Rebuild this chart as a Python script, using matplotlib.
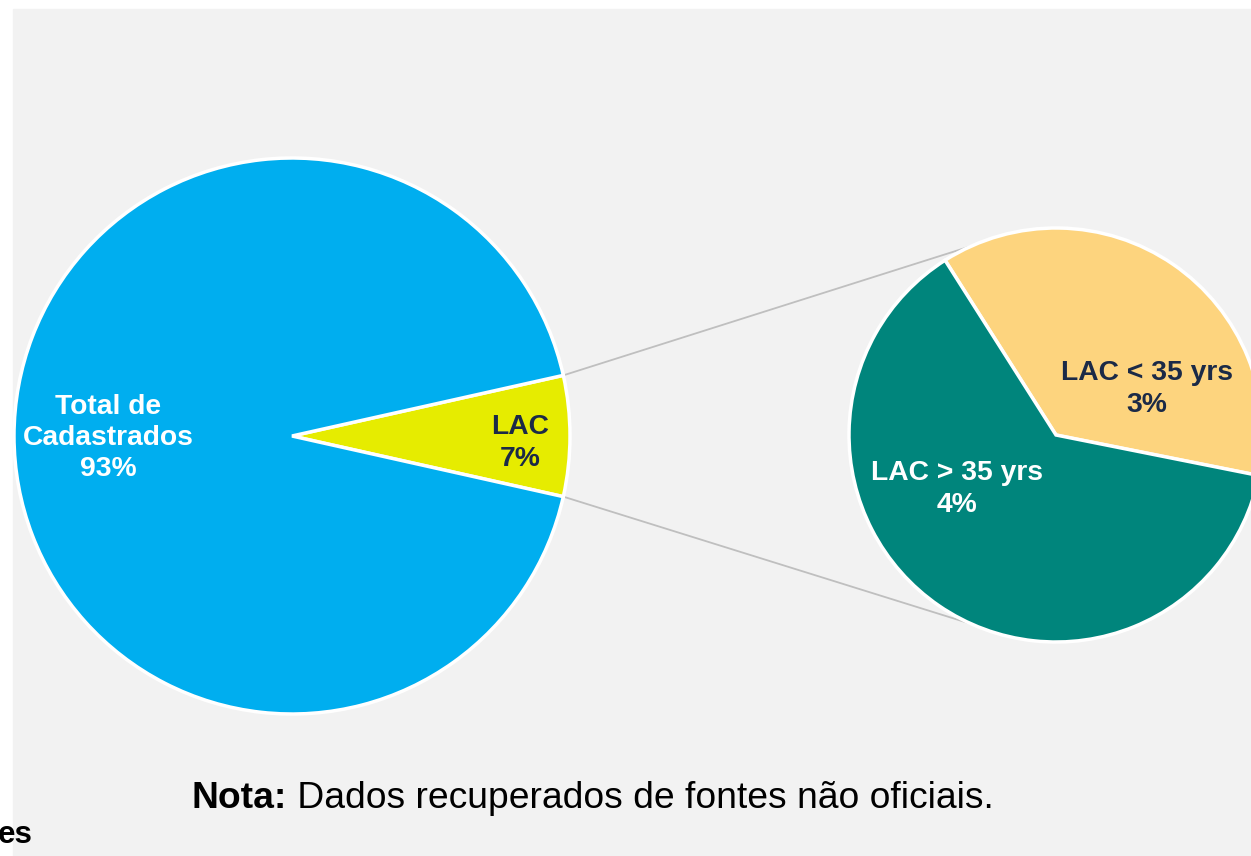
import matplotlib.pyplot as plt
from matplotlib.patches import Rectangle
import numpy as np

plt.rcParams['font.family'] = ['Liberation Sans', 'DejaVu Sans']

# dados
total_labels = ['LAC', 'Total de\nCadastrados']
total_values = [7, 93]
total_colors = ['#E6EC00', '#00AEEF']

lac_labels = ['LAC < 35 yrs', 'LAC > 35 yrs']
lac_values = [2.6, 4.4]
lac_colors = ['#FDD47E', '#00857C']

nota = 'Dados recuperados de fontes não oficiais.'

W, H = 1251, 856
fig = plt.figure(figsize=(W / 100, H / 100), dpi=100)
ax = fig.add_axes([0, 0, 1, 1])

# fundo cinza
ax.add_patch(Rectangle((13, 0), W - 13, H - 9, color='#F2F2F2', zorder=0))

c1, r1 = (292, 420), 278
c2, r2 = (1056, 421), 207

# pizza principal
start1 = -total_values[0] / sum(total_values) * 360 / 2
ax.pie(total_values, colors=total_colors, center=c1, radius=r1,
       startangle=start1, counterclock=True, frame=True,
       wedgeprops=dict(edgecolor='white', linewidth=2.5))

# pizza secundaria
ax.pie(lac_values, colors=lac_colors, center=c2, radius=r2,
       startangle=-11.3, counterclock=True, frame=True,
       wedgeprops=dict(edgecolor='white', linewidth=2.5))

ax.set_xlim(0, W)
ax.set_ylim(0, H)
ax.set_aspect('equal')
ax.axis('off')

# linhas de ligacao
for sgn in (1, -1):
    a1 = np.deg2rad(sgn * -start1)
    a2 = np.deg2rad(sgn * 114)
    p1 = (c1[0] + r1 * np.cos(a1), c1[1] + r1 * np.sin(a1))
    p2 = (c2[0] + r2 * np.cos(a2), c2[1] + r2 * np.sin(a2))
    ax.plot([p1[0], p2[0]], [p1[1], p2[1]], color='#BFBFBF', lw=1.3, zorder=0.5)

# rotulos
pct_total = [f'{v:.0f}%' for v in total_values]
pct_lac = [f'{round(v):.0f}%' for v in lac_values]
lab_kw = dict(ha='center', va='center', fontsize=20.3, fontweight='bold', linespacing=1.27)
ax.text(108, H - 438, f'{total_labels[1]}\n{pct_total[1]}', color='white', **lab_kw)
ax.text(520, H - 443, f'{total_labels[0]}\n{pct_total[0]}', color='#1B2A47', **lab_kw)
ax.text(1147, H - 389, f'{lac_labels[0]}\n{pct_lac[0]}', color='#1B2A47', **lab_kw)
ax.text(957, H - 489, f'{lac_labels[1]}\n{pct_lac[1]}', color='white', **lab_kw)

# nota (negrito + normal, centralizado)
ny = H - 798
t1 = ax.text(0, ny, 'Nota:', ha='left', va='center', fontsize=26.8, fontweight='bold')
t2 = ax.text(0, ny, ' ' + nota, ha='left', va='center', fontsize=26.8)
rend = fig.canvas.get_renderer()
w1 = t1.get_window_extent(rend).width
w2 = t2.get_window_extent(rend).width
x0 = 593 - (w1 + w2) / 2
t1.set_x(x0)
t2.set_x(x0 + w1)

ax.text(33, H - 835, 'es', ha='right', va='center', fontsize=22.5,
        fontweight='bold', color='black')

fig.savefig('out.png', dpi=100)
